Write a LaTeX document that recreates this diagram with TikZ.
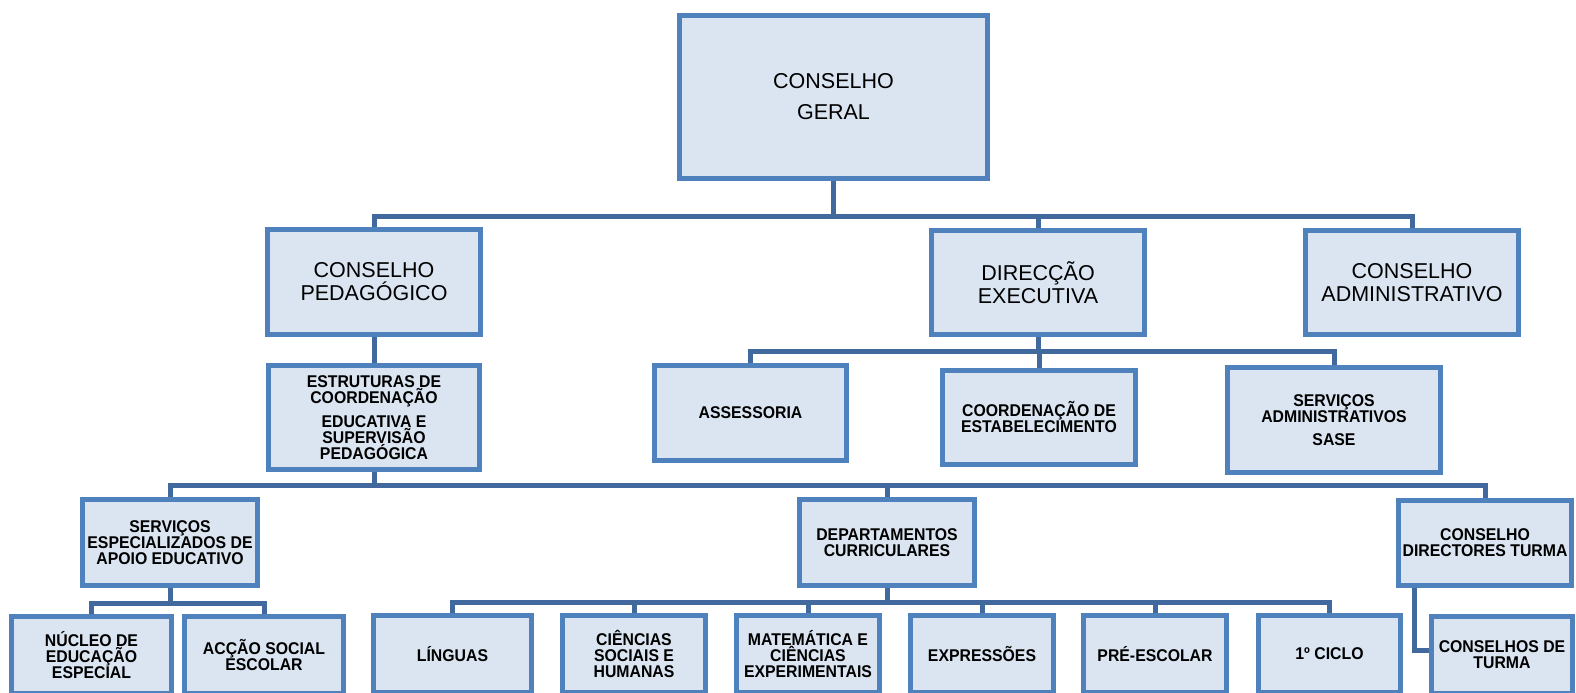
\documentclass[tikz,border=0pt]{standalone}
\usepackage{fontspec}
\setmainfont{Liberation Sans}
\newfontfamily\smallfont{Liberation Sans}[FakeStretch=0.93]
\newcommand\mysmallsetup{\smallfont\bfseries\fontsize{17}{16}\selectfont\lineskiplimit=-30pt\relax}
\usetikzlibrary{backgrounds}
\definecolor{boxfill}{RGB}{219,229,241}
\definecolor{boxline}{RGB}{79,129,189}
\definecolor{conncol}{RGB}{65,105,158}
\tikzset{
  box/.style={draw=boxline, fill=boxfill, line width=5pt, inner sep=0pt, align=center, text=black},
  bigbox/.style={box, font=\fontsize{21.5}{23}\selectfont},
  smallbox/.style={box, font=\mysmallsetup},
  conn/.style={draw=conncol, line width=5pt},
}
\begin{document}
\begin{tikzpicture}[x=1pt,y=-1pt]
\useasboundingbox (0,0) rectangle (1576,693);
% level 1
\node[bigbox, minimum width=308pt, minimum height=163pt] (cg) at (833.5,97) {CONSELHO\\[8pt]GERAL};
% level 2
\node[bigbox, minimum width=213pt, minimum height=105pt] (cp) at (374,282) {CONSELHO\\PEDAGÓGICO};
\node[bigbox, minimum width=213pt, minimum height=104pt] (de) at (1038,282.5) {DIRECÇÃO\\EXECUTIVA};
\node[bigbox, minimum width=213pt, minimum height=104pt] (ca) at (1412,282.5) {CONSELHO\\ADMINISTRATIVO};
% level 3
\node[smallbox, minimum width=211pt, minimum height=104pt] (estr) at (374,417.5) {ESTRUTURAS DE\\COORDENAÇÃO\\[8pt]EDUCATIVA E\\SUPERVISÃO\\PEDAGÓGICA};
\node[smallbox, minimum width=192pt, minimum height=95pt] (assess) at (750.5,413) {ASSESSORIA};
\node[smallbox, minimum width=193pt, minimum height=94pt] (coord) at (1039,417.5) {COORDENAÇÃO DE\\ESTABELECIMENTO};
\node[smallbox, minimum width=213pt, minimum height=105pt] (sa) at (1334,420) {SERVIÇOS\\ADMINISTRATIVOS\\[7pt]SASE};
% level 4
\node[smallbox, minimum width=175pt, minimum height=86pt] (seae) at (170,542.5) {SERVIÇOS\\ESPECIALIZADOS DE\\APOIO EDUCATIVO};
\node[smallbox, minimum width=175pt, minimum height=86pt] (dept) at (887,542.5) {DEPARTAMENTOS\\CURRICULARES};
\node[smallbox, minimum width=173pt, minimum height=85pt] (cdt) at (1485,543) {CONSELHO\\DIRECTORES TURMA};
% level 5
\node[smallbox, minimum width=160pt, minimum height=77pt] (nucleo) at (91.5,655) {NÚCLEO DE\\EDUCAÇÃO\\ESPECIAL};
\node[smallbox, minimum width=159pt, minimum height=77pt] (accao) at (264,655) {ACÇÃO SOCIAL\\ESCOLAR};
\node[smallbox, minimum width=158pt, minimum height=77pt] (linguas) at (452.5,654) {LÍNGUAS};
\node[smallbox, minimum width=143pt, minimum height=77pt] (cienc) at (634,654) {CIÊNCIAS\\SOCIAIS E\\HUMANAS};
\node[smallbox, minimum width=143pt, minimum height=77pt] (mat) at (808,654) {MATEMÁTICA E\\CIÊNCIAS\\EXPERIMENTAIS};
\node[smallbox, minimum width=143pt, minimum height=77pt] (expr) at (982,654) {EXPRESSÕES};
\node[smallbox, minimum width=143pt, minimum height=77pt] (pre) at (1155,654) {PRÉ-ESCOLAR};
\node[smallbox, minimum width=142pt, minimum height=77pt] (ciclo) at (1329.5,654) {1º CICLO};
\node[smallbox, minimum width=141pt, minimum height=77pt] (ct) at (1502,655) {CONSELHOS DE\\TURMA};
% connectors
\begin{scope}[on background layer]
\coordinate (b1) at (833.5,216);
\draw[conn] (cg.south) -- (b1);
\draw[conn] (cp.north) |- (b1) -| (ca.north);
\draw[conn] (b1) -| (de.north);
\draw[conn] (cp.south) -- (estr.north);
\coordinate (b2) at (1038,351);
\draw[conn] (de.south) -- (b2);
\draw[conn] (assess.north) |- (b2) -| (sa.north);
\draw[conn] (b2) -| (coord.north);
\coordinate (b3) at (374,485);
\draw[conn] (estr.south) -- (b3);
\draw[conn] (seae.north) |- (b3) -| (cdt.north);
\draw[conn] (b3) -| (dept.north);
\coordinate (b4) at (170,603);
\draw[conn] (seae.south) -- (b4);
\draw[conn] (nucleo.north) |- (b4) -| (accao.north);
\coordinate (b5) at (887,602);
\draw[conn] (dept.south) -- (b5);
\draw[conn] (linguas.north) |- (b5) -| (ciclo.north);
\draw[conn] (b5) -| (cienc.north);
\draw[conn] (b5) -| (mat.north);
\draw[conn] (b5) -| (expr.north);
\draw[conn] (b5) -| (pre.north);
\draw[conn] ([xshift=18pt]cdt.south west) |- ([yshift=5pt]ct.west);
\end{scope}
\end{tikzpicture}
\end{document}
